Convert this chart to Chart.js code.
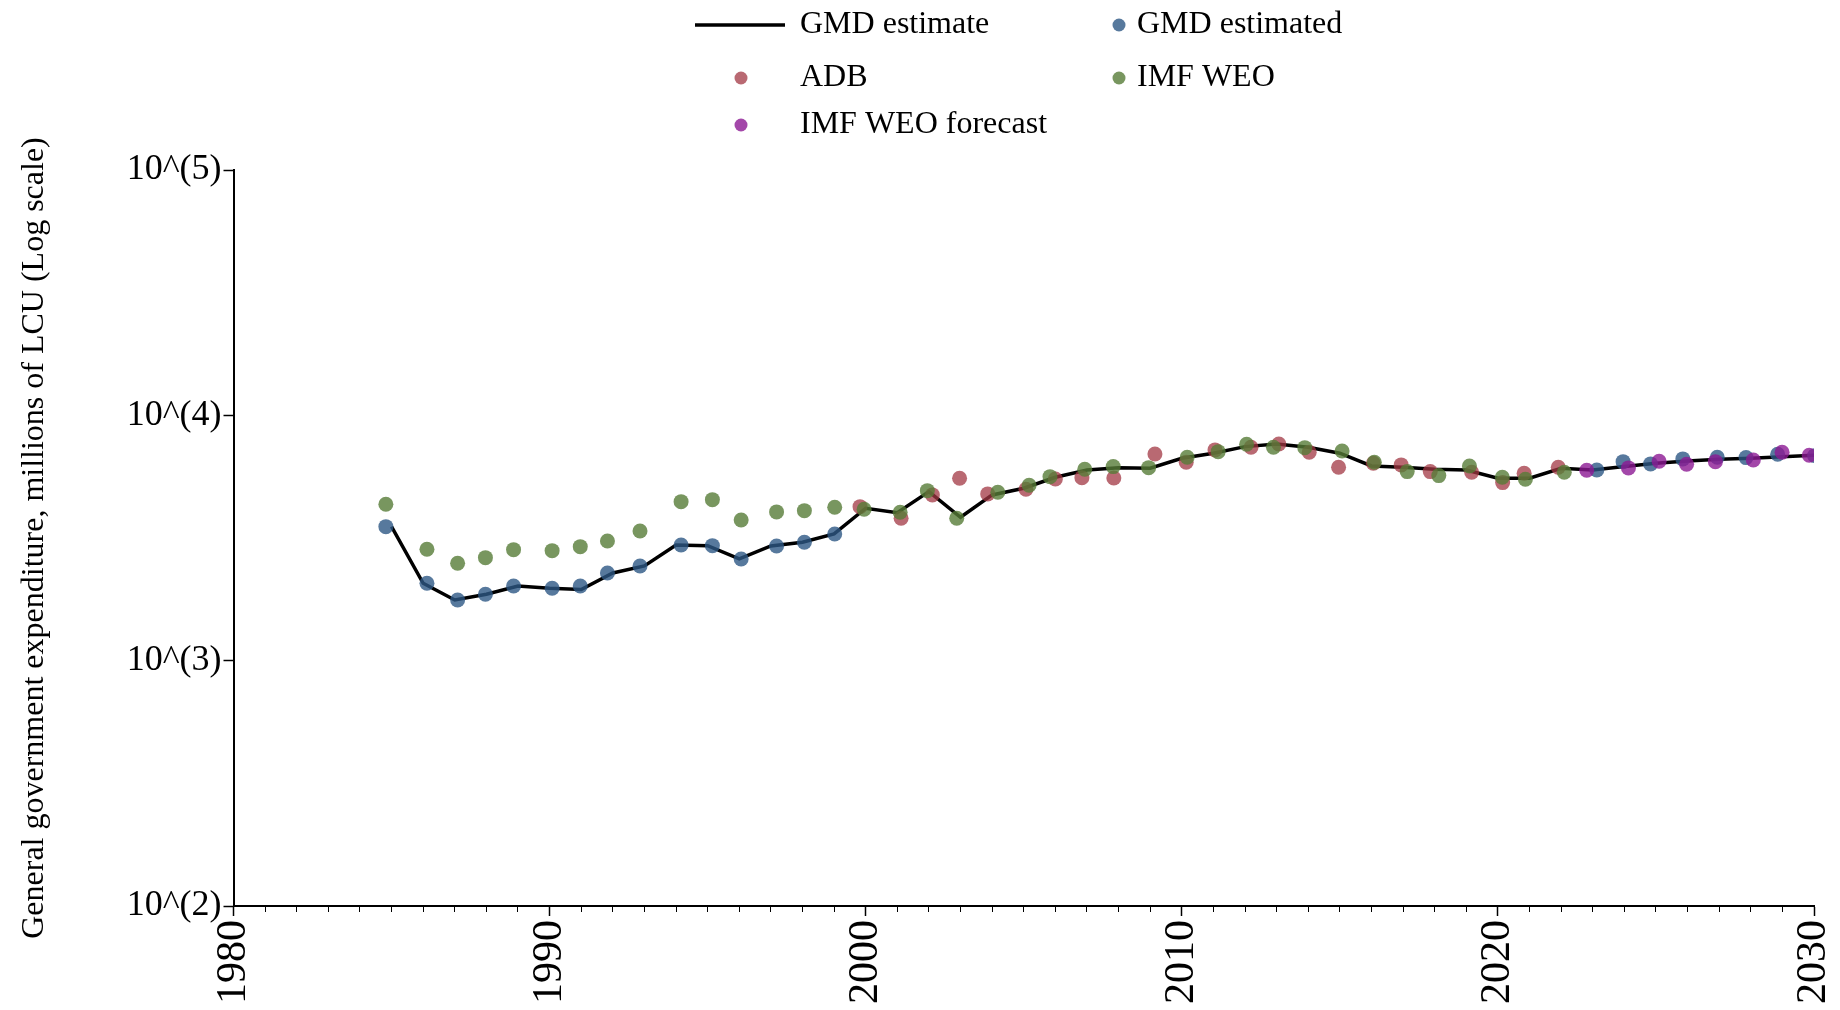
<!DOCTYPE html>
<html>
<head>
<meta charset="utf-8">
<script src="https://cdn.jsdelivr.net/npm/chart.js@4"></script>
<style>
  body { margin: 0; background: #fff; }
  #wrap { width: 1840px; height: 1010px; }
</style>
</head>
<body>
<div id="wrap"><canvas id="gmdChart"></canvas></div>
<script>
// GMD estimate (line, one point per year)
const lineYears = [1985, 1986, 1987, 1988, 1989, 1990, 1991, 1992, 1993, 1994, 1995, 1996, 1997, 1998, 1999,
  2000, 2001, 2002, 2003, 2004, 2005, 2006, 2007, 2008, 2009, 2010, 2011, 2012, 2013, 2014, 2015,
  2016, 2017, 2018, 2019, 2020, 2021, 2022, 2023, 2024, 2025, 2026, 2027, 2028, 2029, 2030];
const lineValues = [3518, 2068, 1768, 1865, 2016, 1973, 1950, 2278, 2432, 2963, 2943, 2598, 2935, 3039, 3285,
  4181, 4012, 4887, 3842, 4738, 5045, 5594, 5990, 6121, 6087, 6686, 7006, 7455, 7645, 7413, 7006,
  6219, 6144, 6030, 5990, 5539, 5539, 6087, 5990, 6180, 6378, 6516, 6622, 6684, 6787, 6877];

// GMD estimated (dots)
const gmdYears = [1984.82, 1986.12, 1987.09, 1987.97, 1988.86, 1990.08, 1990.97, 1991.83, 1992.86, 1994.16,
  1995.15, 1996.06, 1997.18, 1998.06, 1999.02, 2023.13, 2023.96, 2024.83, 2025.85, 2026.94, 2027.85,
  2028.85, 2030.02];
const gmdValues = [3518, 2068, 1768, 1865, 2016, 1973, 2016, 2278, 2432, 2963, 2943, 2598, 2935, 3039, 3285,
  5990, 6476, 6338, 6643, 6750, 6725, 6942, 6851];

// ADB
const adbYears = [1999.82, 2001.12, 2002.11, 2002.97, 2003.86, 2005.07, 2006.0, 2006.84, 2007.85, 2009.15,
  2010.14, 2011.05, 2012.19, 2013.07, 2014.03, 2014.96, 2016.06, 2016.94, 2017.86, 2019.17, 2020.15,
  2020.83, 2021.91];
const adbValues = [4245, 3806, 4738, 5541, 4783, 4998, 5505, 5572, 5557, 6960, 6439, 7228, 7413, 7645, 7073,
  6143, 6378, 6279, 5896, 5862, 5318, 5808, 6143];

// IMF WEO
const weoYears = [1984.82, 1986.12, 1987.09, 1987.97, 1988.86, 1990.08, 1990.97, 1991.83, 1992.86, 1994.16,
  1995.15, 1996.06, 1997.18, 1998.06, 1999.02, 1999.95, 2001.09, 2001.95, 2002.88, 2004.18, 2005.17,
  2005.83, 2006.93, 2007.83, 2008.95, 2010.17, 2011.15, 2012.05, 2012.90, 2013.89, 2015.07, 2016.09,
  2017.13, 2018.13, 2019.1, 2020.14, 2020.87, 2022.1];
const weoValues = [4341, 2845, 2495, 2630, 2835, 2808, 2915, 3076, 3379, 4449, 4532, 3746, 4039, 4088, 4220,
  4142, 4027, 4932, 3806, 4859, 5188, 5625, 6030, 6180, 6121, 6750, 7112, 7625, 7413, 7384, 7159, 6439,
  5896, 5679, 6219, 5594, 5490, 5862];

// IMF WEO forecast
const forecastYears = [2022.81, 2024.13, 2025.1, 2025.97, 2026.88, 2028.08, 2028.99, 2029.85];
const forecastValues = [5974, 6105, 6500, 6319, 6476, 6580, 7072, 6877];

const yTickValues = [100, 1000, 10000, 100000];

const FONT = "'Liberation Serif', 'Times New Roman', serif";

function toPoints(xs, ys) {
  return xs.map((x, i) => ({ x: x, y: ys[i] }));
}

function dotSet(label, xs, ys, color, order) {
  return {
    label: label,
    data: toPoints(xs, ys),
    showLine: false,
    pointRadius: 7.5,
    pointHoverRadius: 7.5,
    pointBorderWidth: 0,
    pointBackgroundColor: color,
    backgroundColor: color,
    borderColor: color,
    order: order
  };
}

// legend in two columns, drawn on the canvas
const legendPlugin = {
  id: 'gridLegend',
  afterDraw(chart) {
    const ctx = chart.ctx;
    const slots = [
      { ds: 0, col: 0, row: 0 },
      { ds: 1, col: 1, row: 0 },
      { ds: 2, col: 0, row: 1 },
      { ds: 3, col: 1, row: 1 },
      { ds: 4, col: 0, row: 2 }
    ];
    const rowY = [25, 78, 125];
    const colText = [800, 1137];
    ctx.save();
    ctx.font = '32px ' + FONT;
    ctx.textBaseline = 'middle';
    slots.forEach(s => {
      const ds = chart.data.datasets[s.ds];
      const y = rowY[s.row];
      const tx = colText[s.col];
      if (ds.showLine) {
        ctx.strokeStyle = ds.borderColor;
        ctx.lineWidth = 3.5;
        ctx.beginPath();
        ctx.moveTo(tx - 105, y);
        ctx.lineTo(tx - 15, y);
        ctx.stroke();
      } else {
        const cx = s.col === 0 ? tx - 59 : tx - 18;
        ctx.fillStyle = ds.pointBackgroundColor;
        ctx.beginPath();
        ctx.arc(cx, y, 6.5, 0, Math.PI * 2);
        ctx.fill();
      }
      ctx.fillStyle = '#000';
      ctx.fillText(ds.label, tx, y);
    });
    ctx.restore();
  }
};

const ctx = document.getElementById('gmdChart').getContext('2d');
new Chart(ctx, {
  type: 'scatter',
  data: {
    datasets: [
      {
        label: 'GMD estimate',
        data: toPoints(lineYears, lineValues),
        showLine: true,
        borderColor: '#000',
        borderWidth: 3.5,
        pointRadius: 0,
        pointHoverRadius: 0,
        tension: 0,
        order: 10
      },
      dotSet('GMD estimated', gmdYears, gmdValues, 'rgba(45,88,132,0.8)', 4),
      dotSet('ADB', adbYears, adbValues, 'rgba(161,55,67,0.75)', 3),
      dotSet('IMF WEO', weoYears, weoValues, 'rgba(86,124,55,0.8)', 2),
      dotSet('IMF WEO forecast', forecastYears, forecastValues, 'rgba(140,25,148,0.8)', 1)
    ]
  },
  options: {
    responsive: true,
    maintainAspectRatio: false,
    animation: false,
    layout: { padding: { top: 170, right: 26, left: 0, bottom: 0 } },
    plugins: {
      legend: { display: false },
      tooltip: { enabled: false }
    },
    scales: {
      x: {
        type: 'linear',
        position: 'bottom',
        weight: 1,
        min: 1980,
        max: 2030,
        afterFit: scale => {
          scale.height = 104;
          scale.paddingLeft = 0;
          scale.paddingRight = 0;
        },
        ticks: {
          stepSize: 10,
          minRotation: 90,
          maxRotation: 90,
          padding: 4,
          color: '#000',
          font: { family: FONT, size: 42 },
          callback: v => String(v)
        },
        grid: { drawOnChartArea: false, tickLength: 10, color: '#000', tickWidth: 1.5 },
        border: { color: '#000', width: 2 }
      },
      xMinor: {
        type: 'linear',
        position: 'bottom',
        weight: 0,
        min: 1980,
        max: 2030,
        afterFit: scale => { scale.height = 0; },
        ticks: { stepSize: 1, display: false, autoSkip: false },
        grid: { drawOnChartArea: false, tickLength: 6, color: '#000', tickWidth: 1 },
        border: { display: false }
      },
      y: {
        type: 'logarithmic',
        min: 100,
        max: 100000,
        afterFit: scale => { scale.width = 233.5; },
        afterBuildTicks: scale => {
          scale.ticks = yTickValues.map(v => ({ value: v, major: true }));
        },
        ticks: {
          color: '#000',
          padding: 2,
          font: { family: FONT, size: 36 },
          callback: v => '10^(' + Math.round(Math.log10(v)) + ')'
        },
        grid: { drawOnChartArea: false, tickLength: 10, color: '#000', tickWidth: 1.5 },
        border: { color: '#000', width: 2 },
        title: {
          display: true,
          text: 'General government expenditure, millions of LCU (Log scale)',
          color: '#000',
          font: { family: FONT, size: 32 },
          padding: { top: 15, bottom: 0 }
        }
      }
    }
  },
  plugins: [legendPlugin]
});
</script>
</body>
</html>
